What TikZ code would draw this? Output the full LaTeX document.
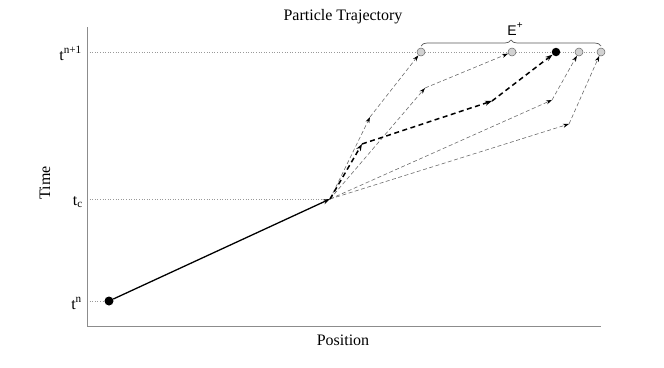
\documentclass[tikz,border=0pt]{standalone}
\usepackage{fontspec}
\setmainfont{Liberation Serif}
\newfontfamily\sansE{Liberation Sans}
\usetikzlibrary{arrows.meta,decorations.pathreplacing}
\pgfdeclarelayer{bg}
\pgfsetlayers{bg,main}
\begin{document}
\begin{tikzpicture}[x=1pt,y=-1pt,
 lbl/.style={font=\fontsize{16}{18}\selectfont},
 axis/.style={draw=gray!90, line width=0.9pt},
 guide/.style={draw=gray!80, dotted, line width=0.6pt},
 branch/.style={draw=gray!85!black, dash pattern=on 4pt off 2.5pt, line width=0.6pt, -{Stealth[length=6pt,width=4pt,black]}},
 chosen/.style={draw=black, dash pattern=on 5pt off 3.5pt, line width=1.5pt, -{Stealth[length=7pt,width=5pt]}},
 ghost/.style={circle, draw=gray!80!black, fill=gray!35, minimum size=8pt, inner sep=0pt, line width=0.5pt},
 dot/.style={circle, fill=black, minimum size=9pt, inner sep=0pt},
]
\useasboundingbox (0,0) rectangle (664,367);
% axes
\coordinate (ytop) at (87,27);
\coordinate (o) at (87,326);
\coordinate (xend) at (601,326);
\draw[axis] (ytop) -- (o) -- (xend);
% labels
\node[lbl] (title) at (343,17) {Particle Trajectory};
\node[lbl] (xlab) at (343,340) {Position};
\node[lbl, rotate=90] (ylab) at (45,183) {Time};
\node[lbl, anchor=base east, inner sep=0pt] (tn1) at (82,60) {t\textsuperscript{n+1}};
\node[lbl, anchor=base east, inner sep=0pt] (tc) at (83,205) {t\textsubscript{c}};
\node[lbl, anchor=base east, inner sep=0pt] (tn) at (82,309) {t\textsuperscript{n}};
% points
\node[dot] (s) at (109,301) {};
\coordinate (c) at (330,199);
\node[ghost] (e1) at (421,52) {};
\node[ghost] (e2) at (512,52) {};
\node[dot, minimum size=8.5pt] (e3) at (556,52) {};
\node[ghost] (e4) at (579,52) {};
\node[ghost] (e5) at (601,52) {};
\coordinate (a1) at (370,117);
\coordinate (b1) at (425,88);
\coordinate (d1) at (362,144);
\coordinate (d2) at (492,101);
\coordinate (f1) at (552,100);
\coordinate (g1) at (569,124);
% guides
\begin{pgfonlayer}{bg}
\draw[guide] (ytop |- e1) -- (e5.center);
\draw[guide] (ytop |- c) -- (c);
\draw[guide] (ytop |- s) -- (s);
\end{pgfonlayer}
% main step
\draw[line width=1.3pt, -{Stealth[length=7pt,width=5pt]}] (s) -- (c);
% branches
\draw[branch] (c) -- (a1);
\draw[branch] (a1) -- (e1);
\draw[branch] (c) -- (b1);
\draw[branch] (b1) -- (e2);
\draw[branch] (c) -- (f1);
\draw[branch] (f1) -- (e4);
\draw[branch] (c) -- (g1);
\draw[branch] (g1) -- (e5);
\draw[chosen] (c) -- (d1);
\draw[chosen] (d1) -- (d2);
\draw[chosen] (d2) -- (e3);
% brace
\coordinate (bl) at (421,46);
\coordinate (br) at (601,46);
\draw[gray!70!black, line width=0.7pt, decorate, decoration={brace, amplitude=6pt}] (bl) -- (br);
\node[font=\sansE\fontsize{14}{16}\selectfont] (E) at (515,29) {E\raisebox{0.45em}{\fontsize{10}{12}\selectfont +}};
\end{tikzpicture}
\end{document}
